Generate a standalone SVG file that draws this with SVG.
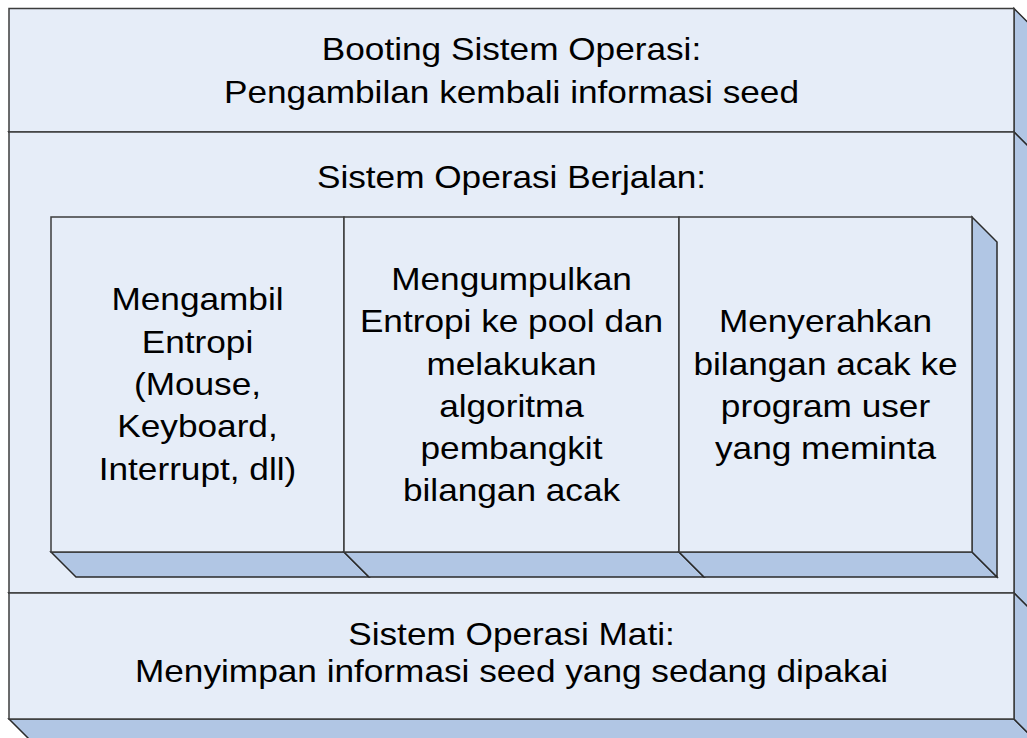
<svg xmlns="http://www.w3.org/2000/svg" width="1027" height="738" viewBox="0 0 1027 738">
<style>
.face{fill:#E6EDF8;stroke:#3c3c3c;stroke-width:1.5;stroke-linejoin:miter}
.side{fill:#B1C6E4;stroke:#2a2a2a;stroke-width:1.5;stroke-linejoin:miter}
.t{font-family:"Liberation Sans",Arial,sans-serif;font-size:32px;fill:#000;text-anchor:middle}
</style>
<rect x="0" y="0" width="1027" height="738" fill="#FFFFFF"/>
<g id="top-box">
<polygon class="side" points="9,132 1014,132 1034,152 29,152"/>
<polygon class="side" points="1014,8.5 1034,28.5 1034,152 1014,132"/>
<rect class="face" x="9" y="8.5" width="1005" height="123.5"/>
<text class="t" transform="translate(511.5,59.5) scale(1.1,1)">Booting Sistem Operasi:</text>
<text class="t" transform="translate(511.5,102.5) scale(1.1,1)">Pengambilan kembali informasi seed</text>
</g>
<g id="middle-box">
<polygon class="side" points="9,593 1014,593 1034,613 29,613"/>
<polygon class="side" points="1014,132 1034,152 1034,613 1014,593"/>
<rect class="face" x="9" y="132" width="1005" height="461"/>
<text class="t" transform="translate(511.5,188) scale(1.1,1)">Sistem Operasi Berjalan:</text>
</g>
<g id="bottom-box">
<polygon class="side" points="9,719 1014,719 1034,739 29,739"/>
<polygon class="side" points="1014,593 1034,613 1034,739 1014,719"/>
<rect class="face" x="9" y="593" width="1005" height="126"/>
<text class="t" transform="translate(511.5,645) scale(1.1,1)">Sistem Operasi Mati:</text>
<text class="t" transform="translate(511.5,682) scale(1.1,1)">Menyimpan informasi seed yang sedang dipakai</text>
</g>
<g id="box-entropi">
<polygon class="side" points="51,552 344,552 369,577 76,577"/>
<rect class="face" x="51" y="217" width="293" height="335"/>
<text class="t" transform="translate(197.5,310) scale(1.1,1)">Mengambil</text>
<text class="t" transform="translate(197.5,352.5) scale(1.1,1)">Entropi</text>
<text class="t" transform="translate(197.5,395) scale(1.1,1)">(Mouse,</text>
<text class="t" transform="translate(197.5,437) scale(1.1,1)">Keyboard,</text>
<text class="t" transform="translate(197.5,479.5) scale(1.1,1)">Interrupt, dll)</text>
</g>
<g id="box-pool">
<polygon class="side" points="344,552 679,552 704,577 369,577"/>
<rect class="face" x="344" y="217" width="335" height="335"/>
<text class="t" transform="translate(511.5,289.5) scale(1.1,1)">Mengumpulkan</text>
<text class="t" transform="translate(511.5,332) scale(1.1,1)">Entropi ke pool dan</text>
<text class="t" transform="translate(511.5,374.5) scale(1.1,1)">melakukan</text>
<text class="t" transform="translate(511.5,416.5) scale(1.1,1)">algoritma</text>
<text class="t" transform="translate(511.5,459) scale(1.1,1)">pembangkit</text>
<text class="t" transform="translate(511.5,501) scale(1.1,1)">bilangan acak</text>
</g>
<g id="box-serah">
<polygon class="side" points="679,552 972,552 997,577 704,577"/>
<polygon class="side" points="972,217 997,242 997,577 972,552"/>
<rect class="face" x="679" y="217" width="293" height="335"/>
<text class="t" transform="translate(825.5,332) scale(1.1,1)">Menyerahkan</text>
<text class="t" transform="translate(825.5,374.5) scale(1.1,1)">bilangan acak ke</text>
<text class="t" transform="translate(825.5,416.5) scale(1.1,1)">program user</text>
<text class="t" transform="translate(825.5,459) scale(1.1,1)">yang meminta</text>
</g>
<g id="connectors"></g>
</svg>
